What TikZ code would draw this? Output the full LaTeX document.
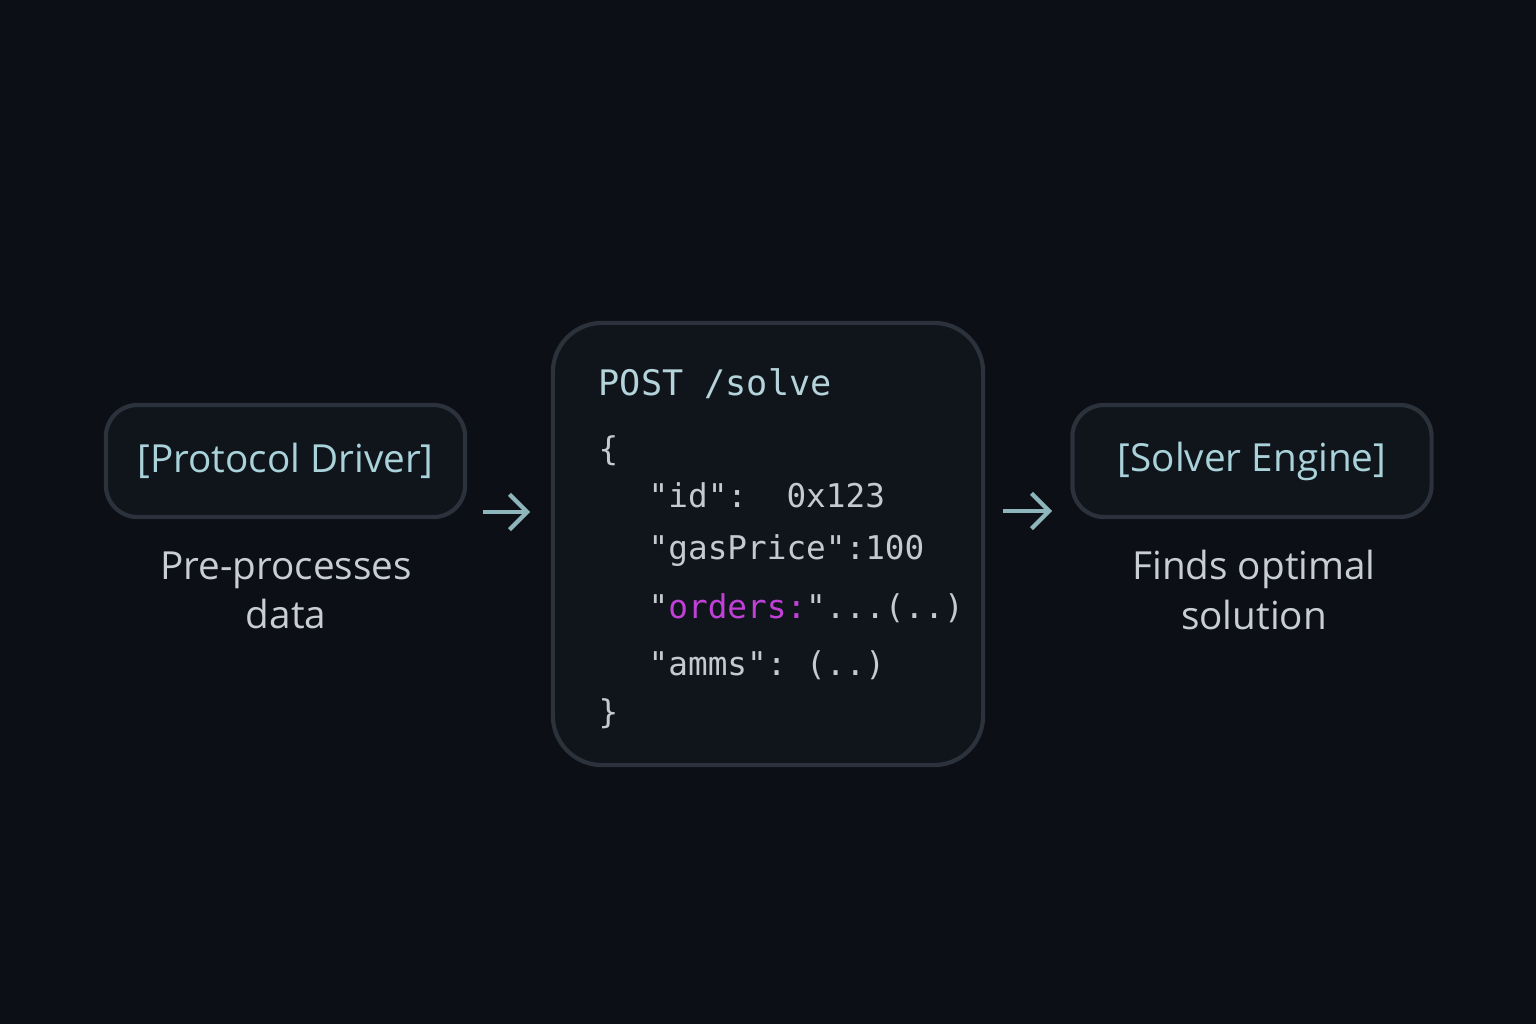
\documentclass[tikz,border=0pt]{standalone}
\usepackage{fontspec}
\setmainfont{Open Sans}
\newfontfamily\codefont{DejaVu Sans Mono}
\usetikzlibrary{arrows.meta,positioning}
\definecolor{bgdark}{HTML}{0C0F15}
\definecolor{boxfill}{HTML}{10151C}
\definecolor{boxline}{HTML}{2B323B}
\definecolor{titlecol}{HTML}{A9D2DA}
\definecolor{desccol}{HTML}{C9CED3}
\definecolor{codecol}{HTML}{C4CACF}
\definecolor{postcol}{HTML}{B5D3DA}
\definecolor{keycol}{HTML}{C040D8}
\definecolor{arrowcol}{HTML}{8FB5BC}
\tikzset{
  stagebox/.style={draw=boxline, line width=1.2pt, fill=boxfill, rounded corners=9pt,
    minimum width=3.59cm, minimum height=1.12cm, text=titlecol, font=\fontsize{11}{14}\selectfont},
  desc/.style={text=desccol, align=center, font=\fontsize{11}{14}\selectfont},
  codeline/.style={anchor=west, text=codecol, inner sep=0pt, font=\codefont\fontsize{9.3}{12}\selectfont},
  flow/.style={-{Straight Barb[length=5pt,width=10pt]}, draw=arrowcol, line width=1.2pt}
}
\begin{document}
\begin{tikzpicture}[x=0.01cm,y=-0.01cm]
  \fill[bgdark] (0,0) rectangle (1536,1024);
  \useasboundingbox (0,0) rectangle (1536,1024);

  \node[stagebox] (driver) at (285.5,461) {[Protocol Driver]};
  \node[stagebox] (solver) at (1252,461) {[Solver Engine]};
  \node[draw=boxline, line width=1.2pt, fill=boxfill, rounded corners=14pt,
    minimum width=4.3cm, minimum height=4.42cm] (request) at (768,544) {};

  \node[desc] (driverdesc) at (286,590) {Pre-processes\\data};
  \node[desc] (solverdesc) at (1254,590) {Finds optimal\\solution};

  \node[codeline, text=postcol, font=\codefont\fontsize{10}{12}\selectfont] (post) at (598,384) {POST /solve};
  \node[codeline] (open) at (598,451) {\{};
  \node[codeline] (lid) at (648,495) {"id":\ \ 0x123};
  \node[codeline] (lgas) at (648,551) {"gasPrice":100};
  \node[codeline] (lord) at (648,608) {"\textcolor{keycol}{orders:}"...(..)};
  \node[codeline] (lamm) at (648,665) {"amms":\ (..)};
  \node[codeline] (close) at (598,714) {\}};

  \coordinate (a1s) at (483,512);
  \coordinate (a1e) at (530,512);
  \coordinate (a2s) at (1003,511);
  \coordinate (a2e) at (1052,511);
  \draw[flow] (a1s) -- (a1e);
  \draw[flow] (a2s) -- (a2e);
\end{tikzpicture}
\end{document}
